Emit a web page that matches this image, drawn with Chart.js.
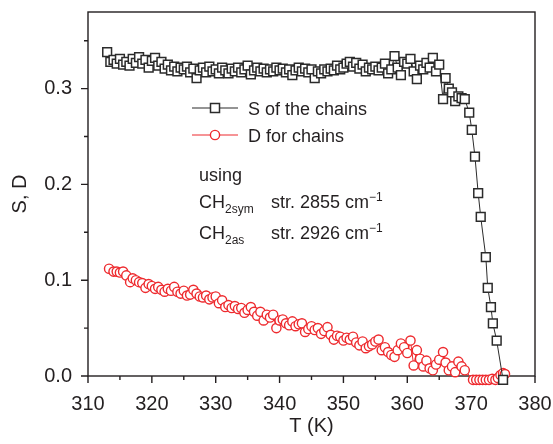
<!DOCTYPE html>
<html>
<head>
<meta charset="utf-8">
<title>S, D vs T</title>
<script src="https://cdn.jsdelivr.net/npm/chart.js@4.4.1/dist/chart.umd.min.js"></script>
<style>
    html, body { margin: 0; padding: 0; background: #ffffff; }
    #wrap { position: relative; width: 553px; height: 444px; }
</style>
</head>
<body>
<div id="wrap"><canvas id="sdChart" width="553" height="444"></canvas></div>
<script>
// temperatura (K) y parametro de orden S de las cadenas
const tempS = [
    313.0, 313.5, 314.0, 314.5, 315.0, 315.5, 316.0, 316.5, 317.0, 317.5,
    318.0, 318.5, 319.0, 319.5, 320.0, 320.5, 321.0, 321.5, 322.0, 322.5,
    323.0, 323.5, 324.0, 324.5, 325.0, 325.5, 326.0, 326.5, 327.0, 327.5,
    328.0, 328.5, 329.0, 329.5, 330.0, 330.5, 331.0, 331.5, 332.0, 332.5,
    333.0, 333.5, 334.0, 334.5, 335.0, 335.5, 336.0, 336.5, 337.0, 337.5,
    338.0, 338.5, 339.0, 339.5, 340.0, 340.5, 341.0, 341.5, 342.0, 342.5,
    343.0, 343.5, 344.0, 344.5, 345.0, 345.5, 346.0, 346.5, 347.0, 347.5,
    348.0, 348.5, 349.0, 349.5, 350.0, 350.5, 351.0, 351.5, 352.0, 352.5,
    353.0, 353.5, 354.0, 354.5, 355.0, 355.5, 356.0, 356.5, 357.0, 357.5,
    358.0, 358.5, 359.0, 359.5, 360.0, 360.5, 361.0, 361.5, 362.0, 362.5,
    363.0, 363.5, 364.0, 364.5, 365.0, 365.6, 366.0, 366.5, 367.0, 367.5,
    368.0, 368.5, 369.0, 369.7, 370.1, 370.6, 371.1, 371.5, 372.3, 372.6,
    373.1, 373.4, 374.0, 375.0
];
const valoresS = [
    0.338, 0.328, 0.330, 0.326, 0.331, 0.325, 0.328, 0.324, 0.331, 0.327,
    0.333, 0.326, 0.330, 0.322, 0.329, 0.332, 0.324, 0.328, 0.321, 0.325,
    0.319, 0.323, 0.318, 0.322, 0.320, 0.323, 0.317, 0.321, 0.311, 0.319,
    0.322, 0.317, 0.323, 0.318, 0.320, 0.316, 0.322, 0.319, 0.316, 0.321,
    0.318, 0.322, 0.317, 0.320, 0.324, 0.315, 0.319, 0.322, 0.318, 0.321,
    0.317, 0.320, 0.318, 0.322, 0.319, 0.321, 0.317, 0.320, 0.314, 0.319,
    0.322, 0.318, 0.321, 0.317, 0.320, 0.311, 0.318, 0.316, 0.320, 0.318,
    0.321, 0.319, 0.324, 0.320, 0.322, 0.326, 0.328, 0.323, 0.327, 0.321,
    0.325, 0.318, 0.322, 0.320, 0.323, 0.319, 0.322, 0.326, 0.316, 0.320,
    0.334, 0.322, 0.314, 0.328, 0.326, 0.331, 0.318, 0.310, 0.324, 0.320,
    0.327, 0.322, 0.332, 0.318, 0.325, 0.289, 0.311, 0.300, 0.296, 0.287,
    0.292, 0.290, 0.289, 0.275, 0.257, 0.229, 0.191, 0.166, 0.124, 0.092,
    0.072, 0.055, 0.037, -0.004
];

// temperatura (K) y parametro D
const tempD = [
    313.3, 314.0, 314.5, 315.0, 315.5, 316.0, 316.6, 317.0, 317.5, 318.0,
    318.5, 319.0, 319.5, 320.0, 320.5, 321.0, 321.5, 322.0, 322.5, 323.0,
    323.5, 324.0, 324.5, 325.0, 325.5, 326.0, 326.5, 327.0, 327.5, 328.0,
    328.5, 329.0, 329.5, 330.0, 330.5, 331.0, 331.5, 332.0, 332.5, 333.0,
    333.5, 334.0, 334.5, 335.0, 335.5, 336.0, 336.5, 337.0, 337.5, 338.0,
    338.5, 339.0, 339.5, 340.0, 340.5, 341.0, 341.5, 342.0, 342.5, 343.0,
    343.5, 344.0, 344.5, 345.0, 345.5, 346.0, 346.5, 347.0, 347.5, 348.0,
    348.5, 349.0, 349.5, 350.0, 350.5, 351.0, 351.5, 352.0, 352.5, 353.0,
    353.5, 354.0, 354.5, 355.0, 355.5, 356.0, 356.5, 357.0, 357.5, 358.0,
    358.5, 359.0, 359.5, 360.0, 360.5, 361.0, 361.5, 362.0, 362.5, 363.0,
    363.5, 364.0, 364.5, 365.0, 365.6, 366.0, 366.5, 367.0, 367.5, 368.0,
    368.5, 369.0, 370.3, 370.8, 371.3, 371.8, 372.3, 372.8, 373.3, 373.8,
    374.2, 374.6, 375.0, 375.3
];
const valoresD = [
    0.112, 0.109, 0.109, 0.108, 0.109, 0.105, 0.098, 0.102, 0.100, 0.098,
    0.097, 0.092, 0.096, 0.094, 0.091, 0.093, 0.090, 0.088, 0.091, 0.089,
    0.093, 0.088, 0.086, 0.089, 0.084, 0.085, 0.090, 0.086, 0.083, 0.082,
    0.084, 0.080, 0.082, 0.083, 0.076, 0.079, 0.072, 0.074, 0.071, 0.073,
    0.070, 0.071, 0.066, 0.069, 0.072, 0.067, 0.063, 0.067, 0.058, 0.064,
    0.061, 0.064, 0.050, 0.058, 0.059, 0.055, 0.053, 0.057, 0.052, 0.054,
    0.055, 0.046, 0.049, 0.052, 0.048, 0.050, 0.044, 0.047, 0.051, 0.043,
    0.038, 0.042, 0.041, 0.037, 0.040, 0.038, 0.041, 0.035, 0.032, 0.036,
    0.029, 0.031, 0.033, 0.036, 0.038, 0.027, 0.030, 0.025, 0.022, 0.020,
    0.027, 0.034, 0.030, 0.024, 0.037, 0.011, 0.027, 0.018, 0.010, 0.016,
    0.008, 0.006, 0.012, 0.017, 0.025, 0.014, 0.006, 0.010, 0.004, 0.015,
    0.010, 0.006, -0.004, -0.004, -0.004, -0.004, -0.004, -0.004, -0.003, -0.004,
    -0.002, 0.001, 0.003, 0.002
];

const ticksX = [310, 320, 330, 340, 350, 360, 370, 380];
const ticksY = [0.0, 0.1, 0.2, 0.3];
const menoresX = [315, 325, 335, 345, 355, 365, 375];
const menoresY = [0.05, 0.15, 0.25, 0.35];

const colorEje = '#231f20';
const colorS = '#2b2b2b';
const colorD = '#ee2a2e';
const fuente = "'Liberation Sans', Arial, sans-serif";

function puntos(xs, ys) {
    return xs.map((x, i) => ({ x: x, y: ys[i] }));
}

// marco completo y marcas de escala hacia fuera
const marcoPlugin = {
    id: 'marco',
    beforeDatasetsDraw(chart) {
        const { ctx, chartArea: a, scales } = chart;
        ctx.save();
        ctx.strokeStyle = colorEje;
        ctx.lineWidth = 1.4;
        ctx.strokeRect(a.left, a.top, a.right - a.left, a.bottom - a.top);

        ctx.beginPath();
        ticksX.forEach(v => {
            const px = scales.x.getPixelForValue(v);
            ctx.moveTo(px, a.bottom); ctx.lineTo(px, a.bottom + 7);
        });
        menoresX.forEach(v => {
            const px = scales.x.getPixelForValue(v);
            ctx.moveTo(px, a.bottom); ctx.lineTo(px, a.bottom + 4);
        });
        ticksY.forEach(v => {
            const py = scales.y.getPixelForValue(v);
            ctx.moveTo(a.left, py); ctx.lineTo(a.left - 7, py);
        });
        menoresY.forEach(v => {
            const py = scales.y.getPixelForValue(v);
            ctx.moveTo(a.left, py); ctx.lineTo(a.left - 4, py);
        });
        ctx.stroke();
        ctx.restore();
    }
};

// leyenda y notas dentro del area
const leyendaPlugin = {
    id: 'leyenda',
    afterDraw(chart) {
        const ctx = chart.ctx;
        ctx.save();
        ctx.textAlign = 'left';
        ctx.textBaseline = 'alphabetic';
        ctx.fillStyle = colorEje;

        // fila S
        let y = 108;
        ctx.strokeStyle = colorS;
        ctx.lineWidth = 1.2;
        ctx.beginPath(); ctx.moveTo(192, y); ctx.lineTo(238, y); ctx.stroke();
        ctx.fillStyle = '#ffffff';
        ctx.fillRect(210.5, y - 4.5, 9, 9);
        ctx.lineWidth = 1.5;
        ctx.strokeRect(210.5, y - 4.5, 9, 9);
        ctx.fillStyle = colorEje;
        ctx.font = '18px ' + fuente;
        ctx.fillText('S of the chains', 248, y + 6.5);

        // fila D
        y = 135;
        ctx.strokeStyle = colorD;
        ctx.lineWidth = 1.2;
        ctx.beginPath(); ctx.moveTo(192, y); ctx.lineTo(238, y); ctx.stroke();
        ctx.beginPath(); ctx.arc(215, y, 4.6, 0, Math.PI * 2);
        ctx.fillStyle = '#ffffff'; ctx.fill();
        ctx.lineWidth = 1.4; ctx.stroke();
        ctx.fillStyle = colorEje;
        ctx.fillText('D for chains', 248, y + 6.5);

        ctx.fillText('using', 199, 181);

        const renglon = (base, sub, resto) => {
            ctx.font = '18px ' + fuente;
            ctx.fillText('CH', 199, base);
            const wCH = ctx.measureText('CH').width;
            ctx.font = '12px ' + fuente;
            ctx.fillText(sub, 199 + wCH, base + 5);
            ctx.font = '18px ' + fuente;
            ctx.fillText(resto, 271, base);
            const w = ctx.measureText(resto).width;
            ctx.font = '12px ' + fuente;
            ctx.fillText('\u22121', 271 + w, base - 7);
        };
        renglon(207.5, '2sym', 'str. 2855 cm');
        renglon(238.5, '2as', 'str. 2926 cm');
        ctx.restore();
    }
};

function sinRelleno(s) {
    s.paddingLeft = 0;
    s.paddingRight = 0;
    s.paddingTop = 0;
    s.paddingBottom = 0;
}

document.addEventListener('DOMContentLoaded', () => {
    const ctx = document.getElementById('sdChart');

    new Chart(ctx, {
        type: 'scatter',
        data: {
            datasets: [{
                label: 'S of the chains',
                data: puntos(tempS, valoresS),
                showLine: true,
                borderColor: colorS,
                borderWidth: 1,
                pointStyle: 'rect',
                pointRadius: 6.2,
                pointBorderWidth: 1.5,
                pointBorderColor: colorS,
                pointBackgroundColor: '#ffffff',
                clip: false
            }, {
                label: 'D for chains',
                data: puntos(tempD, valoresD),
                showLine: true,
                borderColor: colorD,
                borderWidth: 1,
                pointStyle: 'circle',
                pointRadius: 4.6,
                pointBorderWidth: 1.4,
                pointBorderColor: colorD,
                pointBackgroundColor: '#ffffff',
                clip: false
            }]
        },
        options: {
            responsive: false,
            animation: false,
            layout: { padding: { top: 12, right: 18, left: 0, bottom: 0 } },
            plugins: {
                legend: { display: false },
                tooltip: { enabled: false }
            },
            scales: {
                x: {
                    type: 'linear',
                    min: 310,
                    max: 380,
                    afterFit: (s) => { s.height = 68; sinRelleno(s); },
                    afterBuildTicks: (s) => { s.ticks = ticksX.map(v => ({ value: v })); },
                    grid: { display: true, drawOnChartArea: false, drawTicks: false },
                    border: { display: false },
                    ticks: {
                        padding: 16,
                        color: colorEje,
                        font: { family: fuente, size: 20 },
                        maxRotation: 0
                    },
                    title: {
                        display: true,
                        text: 'T (K)',
                        color: colorEje,
                        font: { family: fuente, size: 20 },
                        padding: { top: 0, bottom: 6 }
                    }
                },
                y: {
                    type: 'linear',
                    min: 0,
                    max: 0.38,
                    afterFit: (s) => { s.width = 88; sinRelleno(s); },
                    afterBuildTicks: (s) => { s.ticks = ticksY.map(v => ({ value: v })); },
                    grid: { display: true, drawOnChartArea: false, drawTicks: false },
                    border: { display: false },
                    ticks: {
                        padding: 16,
                        color: colorEje,
                        font: { family: fuente, size: 20 },
                        callback: (v) => v.toFixed(1)
                    },
                    title: {
                        display: true,
                        text: 'S, D',
                        color: colorEje,
                        font: { family: fuente, size: 20 },
                        padding: { top: 8, bottom: 0 }
                    }
                }
            }
        },
        plugins: [marcoPlugin, leyendaPlugin]
    });
});
</script>
</body>
</html>
